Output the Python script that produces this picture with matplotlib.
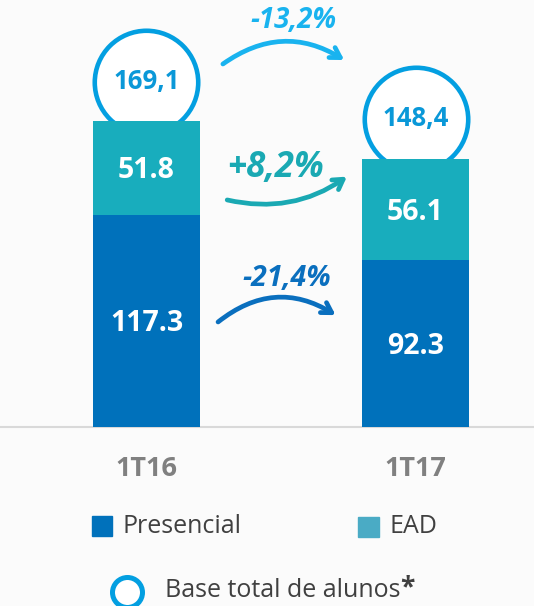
import matplotlib.pyplot as plt
from matplotlib.patches import Rectangle

plt.rcParams['font.family'] = ['Open Sans', 'DejaVu Sans']

# données
periodes = ["1T16", "1T17"]
presencial = [117.3, 92.3]
ead = [51.8, 56.1]
total = ["169,1", "148,4"]
var_total = "-13,2%"
var_ead = "+8,2%"
var_presencial = "-21,4%"

c_pres = "#0071bb"
c_ead = "#18adbd"
c_ring = "#039fe1"
fond = "#fbfbfb"

fig = plt.figure(figsize=(5.34, 6.06), dpi=100, facecolor=fond)
ax = fig.add_axes([0, 0, 1, 1])
ax.set_facecolor(fond)
ax.set_xlim(-0.5446, 1.4405)
ax.set_ylim(-99.0, 236.2)
ax.axis('off')

x = range(len(periodes))
larg = 0.398
ax.bar(x, presencial, width=larg, color=c_pres, zorder=3)
ax.bar(x, ead, width=larg, bottom=presencial, color=c_ead, zorder=3)
ax.axhline(0, color="#d9d9d9", lw=1.5, zorder=2)

for i in x:
    tot = presencial[i] + ead[i]
    # cercle du total
    ax.scatter([i], [tot + 22], s=5550, facecolor="white", edgecolor=c_ring,
               linewidth=3.3, zorder=2)
    ax.text(i, tot + 22, total[i], ha='center', va='center', fontsize=18.5,
            fontweight='bold', color="#0a98d8", zorder=4)
    ax.text(i, presencial[i] / 2 - 1.5, f"{presencial[i]:.1f}", ha='center', va='center',
            fontsize=20.5, fontweight='bold', color="white", zorder=4)
    ax.text(i, presencial[i] + ead[i] / 2 - 1.5, f"{ead[i]:.1f}", ha='center', va='center',
            fontsize=20.5, fontweight='bold', color="white", zorder=4)
    ax.text(i, -23.2, periodes[i], ha='center', va='center', fontsize=19.5,
            fontweight='bold', color="#808080")

# flèches de variation
fleches = [
    (var_total, "#19b3ef", (0.284, 200.8), (0.735, 203.0), -0.33, (0.548, 224.6), 20),
    (var_ead, "#1aa9b3", (0.300, 125.6), (0.745, 138.5), 0.22, (0.481, 143.3), 25),
    (var_presencial, "#0a6fbe", (0.266, 58.1), (0.703, 61.9), -0.35, (0.523, 81.9), 20.5),
]
for txt, col, p0, p1, rad, pt, fs in fleches:
    ax.annotate("", xy=p1, xytext=p0,
                arrowprops=dict(arrowstyle="->,head_width=0.42,head_length=0.7",
                                color=col, lw=3.4,
                                connectionstyle=f"arc3,rad={rad}",
                                shrinkA=0, shrinkB=0))
    ax.text(pt[0], pt[1], txt, ha='center', va='center', fontsize=fs,
            fontweight='bold', fontstyle='italic', color=col)

# légende
fig.patches.append(Rectangle((0.172, 0.1155), 0.0375, 0.033, transform=fig.transFigure,
                             color=c_pres, figure=fig))
fig.text(0.2285, 0.131, "Presencial", ha='left', va='center', fontsize=18, color="#404040")
fig.patches.append(Rectangle((0.670, 0.1139), 0.0393, 0.033, transform=fig.transFigure,
                             color="#4aabc5", figure=fig))
fig.text(0.730, 0.131, "EAD", ha='left', va='center', fontsize=18, color="#404040")
fig.lines.append(plt.Line2D([0.2378], [0.0231], transform=fig.transFigure, marker='o',
                            markersize=21.6, markerfacecolor="white",
                            markeredgecolor=c_ring, markeredgewidth=3.6, linestyle='none'))
base = fig.text(0.309, 0.0248, "Base total de alunos", ha='left', va='center', fontsize=18,
                color="#404040")
ax.annotate("*", xy=(1, 0.62), xycoords=base, ha='left', va='center', fontsize=19,
            fontweight='bold', color="#404040")

fig.savefig("out.png", dpi=100, facecolor=fond)
